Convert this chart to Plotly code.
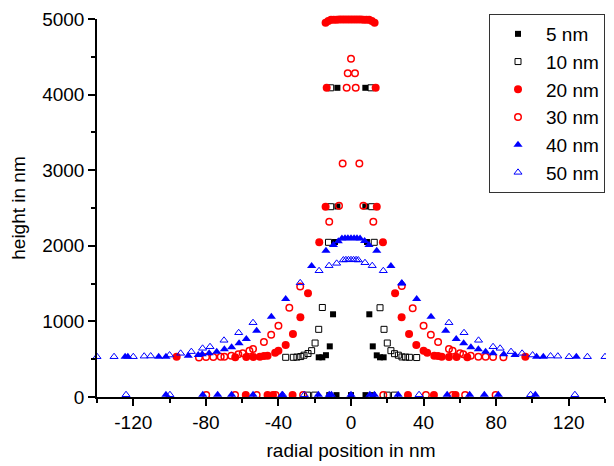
import plotly.graph_objects as go

# ---- data (radial position in nm, height in nm) ----
x5 = [-7.8, 7.8, -7.5, 7.9, -7.5, 7.9, -8.8, 8.8, -9.9, 10.1, -11.7, 12.0, -13.8, 14.2, -15.8, 16.0, -17.8, 18.0,
      -12.0, -8.0, 0.0, 8.0, 12.0]
y5 = [4990, 4990, 4090, 4090, 2520, 2520, 2050, 2050, 1094, 1094, 670, 670, 553, 551, 525, 525, 525, 525,
      25, 25, 25, 25, 25]

x10 = [-11.2, -11.2, -12.4, -15.8, -17.8, -19.8, -21.7, -23.7, -25.9, -27.7, -29.8, -31.8, -36.0,
       11.0, 11.4, 12.8, 16.0, 18.2, 20.0, 22.0, 24.0, 26.1, 28.1, 30.1, 32.2, 36.2,
       -24.0, -20.0, 20.0, 24.0]
y10 = [4090, 2517, 2046, 1184, 895, 714, 613, 575, 553, 535, 528, 525, 525,
       4090, 2517, 2046, 1181, 895, 714, 613, 573, 553, 530, 528, 525, 522,
       25, 25, 25, 25]

x20 = [-14.0, -12.5, -11.0, -9.5, -8.0, -6.5, -5.0, -3.5, -2.0, -0.5, 1.0, 2.5, 4.0, 5.5, 7.0, 8.5, 10.0, 11.5, 13.0,
       -13.4, 13.6, -14.0, 14.2, -17.5, 17.6, -23.7, 24.3, -27.9, 27.9, -32.0, 32.0, -36.0, 36.0,
       -40.0, 40.0, -41.8, 42.0, -46.0, 45.9, -48.0, 48.0, -50.2, 50.0, -53.8, 54.0, -57.7, 58.2,
       -63.8, 64.1, -96.1, 96.1,
       -58.0, -46.0, -43.0, -32.2, 31.4, 45.7, 57.6]
y20 = [4950, 4975, 4990, 4990, 4990, 4995, 4995, 4995, 4995, 4995, 4995, 4995, 4995, 4995, 4990, 4990, 4990, 4975, 4950,
       4090, 4090, 2517, 2517, 2046, 2046, 1371, 1371, 1054, 1054, 833, 833, 688, 688,
       613, 613, 586, 586, 546, 546, 542, 542, 533, 533, 529, 529, 529, 529,
       525, 525, 533, 533,
       25, 25, 25, 25, 25, 25, 25]

x30 = [0.0, -1.8, 2.2, -2.4, 2.6, -4.6, 4.6, -6.6, 6.8, -12.0, 12.3, -28.0, 28.0, -34.0, 34.0, -40.0, 40.0,
       -44.0, 44.0, -48.0, 48.0, -54.0, 54.0, -56.0, 56.0, -59.7, 60.1, -62.1, 61.9, -66.0, 66.0,
       -69.8, 70.2, -71.8, 74.2, -75.9, 78.3, -79.9, -83.8, 84.0,
       -79.8, -63.9, -52.0, -41.6, -26.4, 17.8, 41.3, 56.0, 62.9, 79.7]
y30 = [4475, 4281, 4281, 4090, 4090, 3090, 3090, 2530, 2530, 2319, 2319, 1460, 1468, 1180, 1173, 943, 943,
       824, 824, 727, 727, 635, 635, 613, 613, 578, 578, 565, 565, 546, 546,
       533, 533, 533, 533, 529, 529, 529, 522, 525,
       25, 25, 25, 25, 25, 25, 25, 25, 25, 25]

x40 = [-5.0, -3.3, -1.7, 0.0, 1.7, 3.3, 5.0, -7.0, 7.5, -9.7, 9.9, -13.8, 14.2, -21.7, 22.0, 28.0,
       -36.0, 36.2, -43.9, 44.1, -52.0, 52.2, -57.7, 58.0, -61.7, 62.1, -65.8, 66.1, -69.8, 70.2,
       -74.0, 74.2, -78.2, 78.3, -82.0, 84.2, -84.2, -89.7, 90.4, -102.0, 102.3, -106.0, 106.0,
       -123.0, -124.5, 124.2,
       -102.0, -81.7, -73.5, -65.8, -54.0, -38.0, -18.0, -12.0, -10.8, 0.0, 10.4, 12.9, 26.0,
       53.0, 65.4, 73.5, 81.2, 101.6]
y40 = [2095, 2100, 2100, 2100, 2100, 2100, 2095, 2060, 2065, 2010, 2010, 1935, 1935, 1733, 1733, 1504,
       1296, 1296, 1062, 1062, 877, 877, 767, 767, 710, 710, 657, 657, 631, 631,
       600, 600, 578, 578, 565, 565, 556, 546, 556, 533, 533, 533, 533,
       533, 533, 533,
       30, 30, 30, 30, 30, 30, 30, 30, 30, 30, 30, 30, 30,
       30, 30, 30, 30, 30]

x50 = [-4.2, -2.8, -1.4, 0.0, 1.4, 2.8, 4.0, -7.9, 7.7, -12.1, 11.7, -17.6, 17.8, -28.0, 28.0,
       -54.0, 54.0, -61.9, 62.3, -70.0, 70.3, -77.7, 78.3, -81.8, 82.2, -88.0, 88.2, -93.9, 94.3,
       -100.0, 100.1, -110.4, 110.0, -114.0, 114.0, -120.0, 120.2, -130.6, 130.3, -140.0, 140.0,
       -124.0, -99.8, -37.7, -25.7, 37.5, 99.0, 123.4]
y50 = [1812, 1815, 1815, 1815, 1815, 1815, 1812, 1768, 1776, 1737, 1737, 1670, 1670, 1510, 1505,
       983, 983, 850, 850, 750, 750, 665, 665, 644, 644, 600, 600, 578, 578,
       555, 555, 542, 542, 540, 540, 533, 533, 533, 533, 533, 533,
       30, 30, 30, 30, 30, 30, 30]

names = ["5 nm", "10 nm", "20 nm", "30 nm", "40 nm", "50 nm"]
xticks = [-120, -80, -40, 0, 40, 80, 120]
xticklabels = ["-120", "-80", "-40", "0", "40", "80", "120"]
yticks = [0, 1000, 2000, 3000, 4000, 5000]

series = [
    (x5, y5, dict(symbol="square", size=6, color="black")),
    (x10, y10, dict(symbol="square-open", size=6, color="black", line=dict(width=1))),
    (x20, y20, dict(symbol="circle", size=8, color="#ff0000")),
    (x30, y30, dict(symbol="circle-open", size=6.5, color="#ff0000", line=dict(width=1.5))),
    (x40, y40, dict(symbol="triangle-up", size=8, color="#0000ff")),
    (x50, y50, dict(symbol="triangle-up-open", size=7, color="#0000ff", line=dict(width=1))),
]

fig = go.Figure()
for (xs, ys, mk), nm in zip(series, names):
    fig.add_trace(go.Scatter(x=xs, y=ys, mode="markers", name=nm, marker=mk, cliponaxis=False))

font = "Liberation Sans, Arial, sans-serif"
fig.update_layout(
    width=606, height=458,
    margin=dict(l=89, r=9, t=11, b=69, autoexpand=False),
    paper_bgcolor="white", plot_bgcolor="white",
    font=dict(family=font, size=19, color="black"),
    legend=dict(x=(489 - 97) / 508, xanchor="left", y=(397 - 14) / 378, yanchor="top",
                bordercolor="#333333", borderwidth=1, bgcolor="white",
                font=dict(family=font, size=19, color="black"), itemwidth=46),
    xaxis=dict(range=[-140, 140], tickvals=xticks, ticktext=xticklabels,
               showgrid=False, zeroline=False, showline=True, linecolor="black", linewidth=1.5,
               ticks="outside", ticklen=7, tickwidth=1.5, tickcolor="black",
               minor=dict(dtick=20, tick0=0, ticks="outside", ticklen=4, tickwidth=1.5, tickcolor="black"),
               title=dict(text="radial position in nm", standoff=12, font=dict(size=19))),
    yaxis=dict(range=[0, 5000], tickvals=yticks,
               showgrid=False, zeroline=False, showline=True, linecolor="black", linewidth=1.5,
               ticks="outside", ticklen=7, tickwidth=1.5, tickcolor="black",
               minor=dict(dtick=500, tick0=0, ticks="outside", ticklen=4, tickwidth=1.5, tickcolor="black"),
               title=dict(text="height in nm", standoff=12, font=dict(size=19))),
)
fig.write_html("out.html")
